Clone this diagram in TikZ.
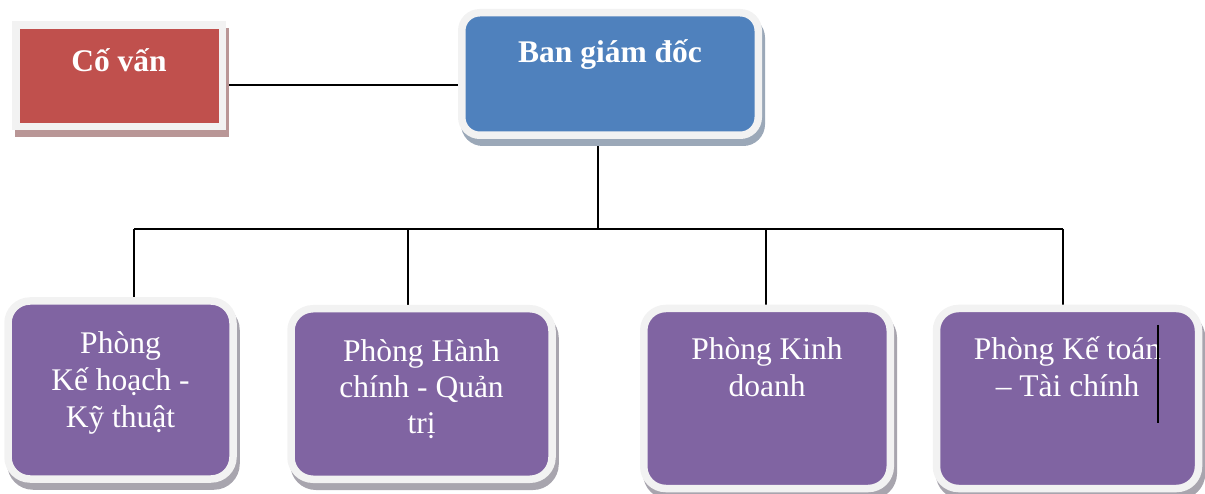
\documentclass[tikz,border=0pt]{standalone}
\usepackage{fontspec}
\setmainfont{Liberation Serif}
\usetikzlibrary{shadows}

\definecolor{rim}{HTML}{F2F2F2}
\definecolor{redbox}{HTML}{C0504D}
\definecolor{bluebox}{HTML}{4F81BD}
\definecolor{purplebox}{HTML}{8064A2}
\definecolor{redshadow}{HTML}{B99696}
\definecolor{blueshadow}{HTML}{9BA8B8}
\definecolor{purpleshadow}{HTML}{A8A5AE}

\pgfdeclarelayer{background}
\pgfsetlayers{background,main}

\begin{document}
\begin{tikzpicture}[x=1pt,y=-1pt,
    box/.style={draw=rim,line width=7.5pt,inner sep=0pt},
    boxshadow/.style={drop shadow={shadow xshift=3pt,shadow yshift=-7pt,opacity=1,fill=#1,draw=#1,line width=7.5pt}},
    dept/.style={box,fill=purplebox,rounded corners=22pt,boxshadow=purpleshadow},
    dtext/.style={anchor=base,align=center,text=white,inner sep=0pt,font=\fontsize{31.5}{37}\selectfont},
    ttext/.style={anchor=base,text=white,inner sep=0pt,font=\fontsize{31.5}{37}\selectfont\bfseries},
    link/.style={line width=1.8pt}]
    \useasboundingbox (0,0) rectangle (1205,494);

    % top level
    \node[box,fill=redbox,minimum width=206.5pt,minimum height=101.5pt,boxshadow=redshadow] (covan) at (119,76) {};
    \node[ttext] (covan-t) at ([yshift=-50pt]covan.north) {Cố vấn};
    \node[box,fill=bluebox,rounded corners=18pt,minimum width=296.5pt,minimum height=122.5pt,boxshadow=blueshadow] (bgd) at (610,74) {};
    \node[ttext] (bgd-t) at ([yshift=-54pt]bgd.north) {Ban giám đốc};

    % departments (text anchored at the baseline of its last line)
    \node[dept,minimum width=225pt,minimum height=178pt] (khkt) at (120.5,390) {};
    \node[dept,minimum width=261pt,minimum height=170.5pt] (hcqt) at (421.5,394) {};
    \node[dept,minimum width=246.5pt,minimum height=180pt] (kd) at (767,398.5) {};
    \node[dept,minimum width=262pt,minimum height=180pt] (ktc) at (1067.5,398.5) {};
    \node[dtext] (khkt-t) at ([yshift=-130pt]khkt.north) {Phòng\\Kế hoạch -\\Kỹ thuật};
    \node[dtext,font=\fontsize{31.5}{36}\selectfont] (hcqt-t) at ([yshift=-128pt]hcqt.north) {Phòng Hành\\chính - Quản\\trị};
    \node[dtext] (kd-t) at ([yshift=-92pt]kd.north) {Phòng Kinh\\doanh};
    \node[dtext] (ktc-t) at ([yshift=-92pt]ktc.north) {Phòng Kế toán\\– Tài chính};

    % connectors
    \coordinate (hub) at (598,229);
    \coordinate (d1) at (134,229);
    \coordinate (d2) at (408,229);
    \coordinate (d3) at (766,229);
    \coordinate (d4) at (1063,229);
    \begin{pgfonlayer}{background}
    \draw[link] ([yshift=-9pt]covan.east) -- ([yshift=-9pt]covan.east -| bgd.west);
    \draw[link] (bgd.center -| hub) -- (hub);
    \draw[link] (d1) -- (d4);
    \foreach \d/\n in {d1/khkt,d2/hcqt,d3/kd,d4/ktc}
        \draw[link] (\d) -- (\d |- \n.center);
    \end{pgfonlayer}

    % stray bar
    \coordinate (bar-top) at (1158,325);
    \coordinate (bar-bot) at (1158,423);
    \draw[link] (bar-top) -- (bar-bot);
\end{tikzpicture}
\end{document}
